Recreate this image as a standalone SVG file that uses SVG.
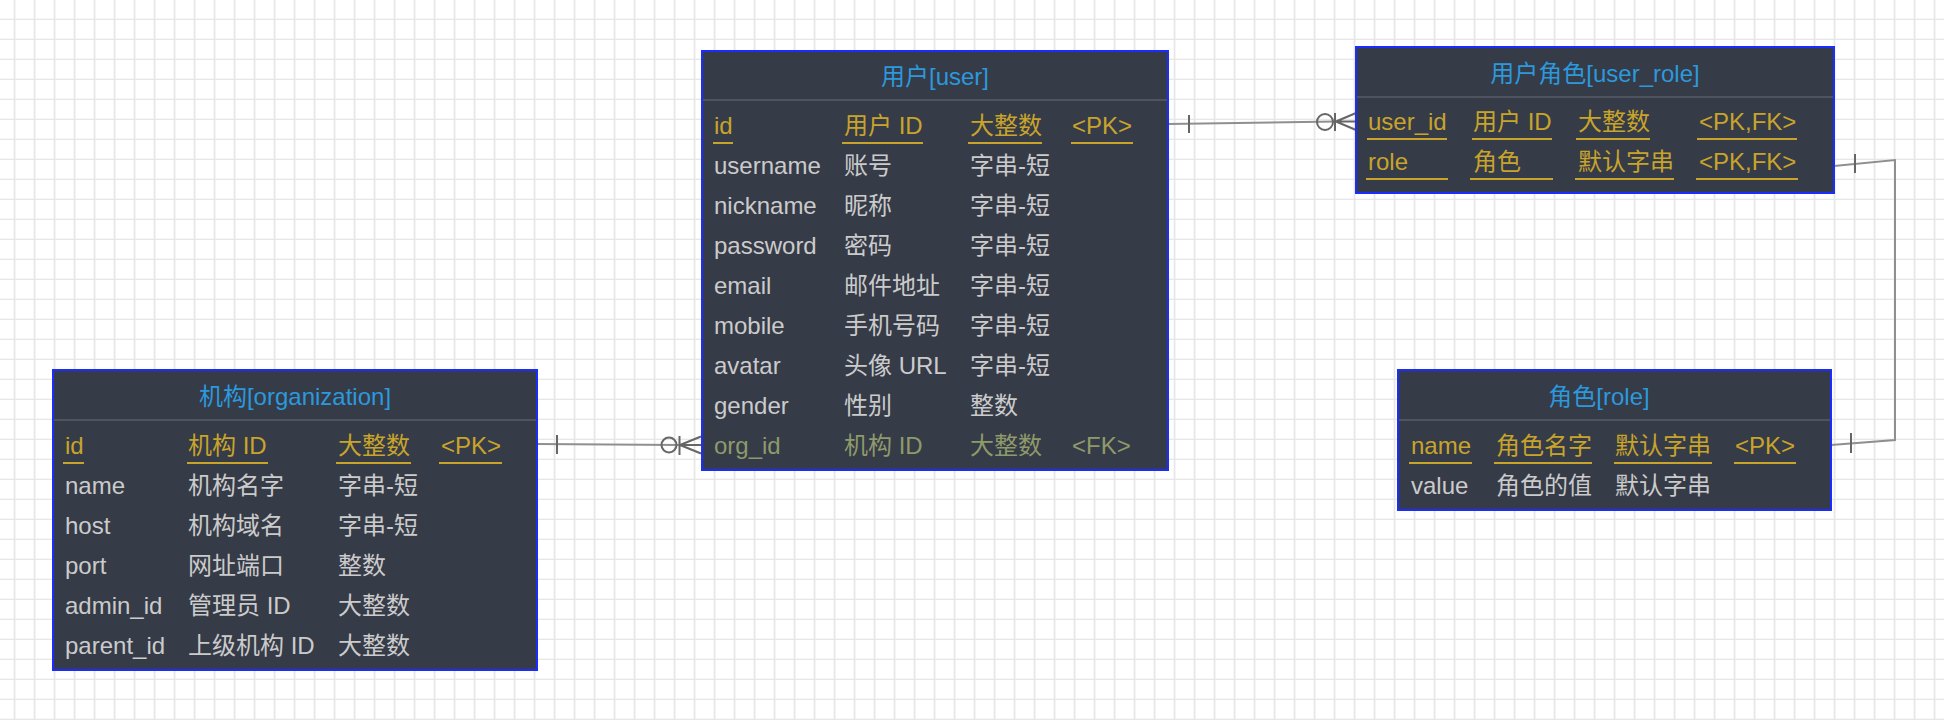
<svg xmlns="http://www.w3.org/2000/svg" width="1944" height="720" viewBox="0 0 1944 720">
<style>
text{font-family:"Liberation Sans","Noto Sans CJK SC",sans-serif;font-size:24px}
.box{fill:#363b48;stroke:#1a2cff;stroke-width:2}
.sep{stroke:#4f535e;stroke-width:2}
.title{fill:#2b99dd;text-anchor:middle}
.pk{fill:#c8a42b}
.nm{fill:#cbcbcb}
.fk{fill:#8e9a6a}
.ul{stroke:#c8a42b;stroke-width:2}
.ln{fill:none;stroke:#8f8f8f;stroke-width:2}
.sym{fill:none;stroke:#666;stroke-width:2}
</style>
<defs>
<pattern id="grid" width="20" height="20" patternUnits="userSpaceOnUse">
<rect width="20" height="20" fill="#fff"/>
<rect x="13.7" y="0" width="1.7" height="20" fill="#e7e7e7"/>
<rect x="0" y="18.7" width="20" height="1.7" fill="#e7e7e7"/>
</pattern>
</defs>
<rect width="1944" height="720" fill="url(#grid)"/>

<g id="connectors">
<!-- user.id -> user_role.user_id -->
<path class="ln" d="M1168,124 L1336,121.5"/>
<path class="sym" d="M1189,115 V133"/>
<circle class="sym" cx="1325" cy="122" r="8"/>
<path class="sym" d="M1335,113 V131 M1336,121.5 L1356,113 M1336,121.5 L1356,121.5 M1336,121.5 L1356,130"/>
<!-- organization.id -> user.org_id -->
<path class="ln" d="M537,444 L680,445"/>
<path class="sym" d="M557,435 V454"/>
<circle class="sym" cx="669" cy="445" r="7.5"/>
<path class="sym" d="M679.5,436 V455 M680,445 L701,436.5 M680,445 L701,445 M680,445 L701,453.5"/>
<!-- user_role.role -> role.name -->
<path class="ln" d="M1834,166 L1895,160 L1895,440 L1831,445"/>
<path class="sym" d="M1855,154 V173 M1851,433 V453"/>
</g>

<g id="user">
<rect class="box" x="702" y="51" width="466" height="419"/>
<line class="sep" x1="703" y1="100" x2="1167" y2="100"/>
<text class="title" x="935" y="85">用户[user]</text>
<g class="pk">
<text x="714" y="134">id</text><text x="844" y="134">用户 ID</text><text x="970" y="134">大整数</text><text x="1072" y="134">&lt;PK&gt;</text>
</g>
<line class="ul" x1="713" y1="143" x2="733" y2="143"/>
<line class="ul" x1="842" y1="143" x2="923" y2="143"/>
<line class="ul" x1="968" y1="143" x2="1042" y2="143"/>
<line class="ul" x1="1071" y1="143" x2="1133" y2="143"/>
<g class="nm">
<text x="714" y="174">username</text><text x="844" y="174">账号</text><text x="970" y="174">字串-短</text>
<text x="714" y="214">nickname</text><text x="844" y="214">昵称</text><text x="970" y="214">字串-短</text>
<text x="714" y="254">password</text><text x="844" y="254">密码</text><text x="970" y="254">字串-短</text>
<text x="714" y="294">email</text><text x="844" y="294">邮件地址</text><text x="970" y="294">字串-短</text>
<text x="714" y="334">mobile</text><text x="844" y="334">手机号码</text><text x="970" y="334">字串-短</text>
<text x="714" y="374">avatar</text><text x="844" y="374">头像 URL</text><text x="970" y="374">字串-短</text>
<text x="714" y="414">gender</text><text x="844" y="414">性别</text><text x="970" y="414">整数</text>
</g>
<g class="fk">
<text x="714" y="454">org_id</text><text x="844" y="454">机构 ID</text><text x="970" y="454">大整数</text><text x="1072" y="454">&lt;FK&gt;</text>
</g>
</g>

<g id="user_role">
<rect class="box" x="1356" y="47" width="478" height="146"/>
<line class="sep" x1="1357" y1="97" x2="1833" y2="97"/>
<text class="title" x="1595" y="82">用户角色[user_role]</text>
<g class="pk">
<text x="1368" y="130">user_id</text><text x="1473" y="130">用户 ID</text><text x="1578" y="130">大整数</text><text x="1699" y="130">&lt;PK,FK&gt;</text>
<text x="1368" y="170">role</text><text x="1473" y="170">角色</text><text x="1578" y="170">默认字串</text><text x="1699" y="170">&lt;PK,FK&gt;</text>
</g>
<line class="ul" x1="1367" y1="139" x2="1447" y2="139"/>
<line class="ul" x1="1472" y1="139" x2="1552" y2="139"/>
<line class="ul" x1="1576" y1="139" x2="1650" y2="139"/>
<line class="ul" x1="1697" y1="139" x2="1797" y2="139"/>
<line class="ul" x1="1366" y1="179" x2="1448" y2="179"/>
<line class="ul" x1="1470" y1="179" x2="1553" y2="179"/>
<line class="ul" x1="1575" y1="179" x2="1674" y2="179"/>
<line class="ul" x1="1696" y1="179" x2="1798" y2="179"/>
</g>

<g id="role">
<rect class="box" x="1398" y="370" width="433" height="140"/>
<line class="sep" x1="1399" y1="420" x2="1830" y2="420"/>
<text class="title" x="1599" y="405">角色[role]</text>
<g class="pk">
<text x="1411" y="454">name</text><text x="1496" y="454">角色名字</text><text x="1615" y="454">默认字串</text><text x="1735" y="454">&lt;PK&gt;</text>
</g>
<line class="ul" x1="1409" y1="463" x2="1472" y2="463"/>
<line class="ul" x1="1494" y1="463" x2="1592" y2="463"/>
<line class="ul" x1="1614" y1="463" x2="1712" y2="463"/>
<line class="ul" x1="1734" y1="463" x2="1796" y2="463"/>
<g class="nm">
<text x="1411" y="494">value</text><text x="1496" y="494">角色的值</text><text x="1615" y="494">默认字串</text>
</g>
</g>

<g id="organization">
<rect class="box" x="53" y="370" width="484" height="300"/>
<line class="sep" x1="54" y1="420" x2="536" y2="420"/>
<text class="title" x="295" y="405">机构[organization]</text>
<g class="pk">
<text x="65" y="454">id</text><text x="188" y="454">机构 ID</text><text x="338" y="454">大整数</text><text x="441" y="454">&lt;PK&gt;</text>
</g>
<line class="ul" x1="63" y1="463" x2="84" y2="463"/>
<line class="ul" x1="187" y1="463" x2="268" y2="463"/>
<line class="ul" x1="336" y1="463" x2="411" y2="463"/>
<line class="ul" x1="439" y1="463" x2="502" y2="463"/>
<g class="nm">
<text x="65" y="494">name</text><text x="188" y="494">机构名字</text><text x="338" y="494">字串-短</text>
<text x="65" y="534">host</text><text x="188" y="534">机构域名</text><text x="338" y="534">字串-短</text>
<text x="65" y="574">port</text><text x="188" y="574">网址端口</text><text x="338" y="574">整数</text>
<text x="65" y="614">admin_id</text><text x="188" y="614">管理员 ID</text><text x="338" y="614">大整数</text>
<text x="65" y="654">parent_id</text><text x="188" y="654">上级机构 ID</text><text x="338" y="654">大整数</text>
</g>
</g>
</svg>
